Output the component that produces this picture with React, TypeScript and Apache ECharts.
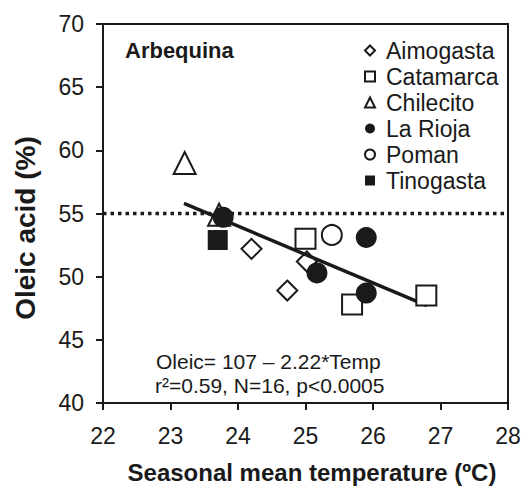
import React, { useEffect, useRef } from "react";
import * as echarts from "echarts";

const xTicks = [22, 23, 24, 25, 26, 27, 28];
const yTicks = [40, 45, 50, 55, 60, 65, 70];

const aimogasta = [[24.2, 52.2], [25.02, 51.2], [24.73, 48.9]];
const catamarca = [[25.0, 53.0], [25.69, 47.8], [26.79, 48.5]];
const chilecito = [[23.21, 59.0], [23.72, 54.9]];
const laRioja = [[23.78, 54.7], [25.17, 50.3], [25.9, 53.1], [25.9, 48.7]];
const poman = [[25.39, 53.3]];
const tinogasta = [[23.7, 52.9]];
const regression = [[23.2, 55.8], [26.8, 47.7]];
const reference55 = [[22, 55], [28, 55]];

const FONT = "'Liberation Sans', Arial, sans-serif";
const INK = "#1a1a1a";

export default function App() {
  const ref = useRef<HTMLDivElement>(null);
  useEffect(() => {
    if (!ref.current) return;
    const chart = echarts.init(ref.current, null, { renderer: "svg" });
    const open = (sym: string, size: number, data: number[][], name: string, z = 5) => ({
      name,
      type: "scatter",
      symbol: sym,
      symbolSize: size,
      data,
      z,
      itemStyle: { color: "#fff", borderColor: INK, borderWidth: 2, opacity: 1 },
    });
    const filled = (sym: string, size: number, data: number[][], name: string) => ({
      name,
      type: "scatter",
      symbol: sym,
      symbolSize: size,
      data,
      z: 5,
      itemStyle: { color: INK, borderColor: INK, borderWidth: 0, opacity: 1 },
    });
    chart.setOption({
      animation: false,
      textStyle: { fontFamily: FONT },
      grid: {
        left: 103,
        right: 17,
        top: 24,
        bottom: 87,
        show: true,
        borderColor: INK,
        borderWidth: 2,
        backgroundColor: "transparent",
      },
      legend: {
        orient: "vertical",
        left: 359,
        top: 34,
        itemWidth: 10,
        itemHeight: 10,
        itemGap: 3,
        selectedMode: false,
        textStyle: { fontFamily: FONT, fontSize: 23, color: INK, lineHeight: 23, padding: [0, 0, 0, 6] },
        data: ["Aimogasta", "Catamarca", "Chilecito", "La Rioja", "Poman", "Tinogasta"],
      },
      xAxis: {
        type: "value",
        min: xTicks[0],
        max: xTicks[xTicks.length - 1],
        interval: 1,
        axisLine: { show: true, lineStyle: { color: INK, width: 2 } },
        axisTick: { show: true, inside: false, length: 7, lineStyle: { color: INK, width: 2 } },
        axisLabel: { fontSize: 23, color: INK, margin: 21, fontFamily: FONT },
        splitLine: { show: false },
      },
      yAxis: {
        type: "value",
        min: yTicks[0],
        max: yTicks[yTicks.length - 1],
        interval: 5,
        axisLine: { show: true, lineStyle: { color: INK, width: 2 } },
        axisTick: { show: true, inside: false, length: 7, lineStyle: { color: INK, width: 2 } },
        axisLabel: { fontSize: 23, color: INK, margin: 19, fontFamily: FONT },
        splitLine: { show: false },
      },
      series: [
        {
          name: "ref55",
          type: "line",
          data: reference55,
          symbol: "none",
          z: 2,
          lineStyle: { color: INK, width: 3.5, type: [3.5, 4] },
        },
        open("diamond", 20, aimogasta, "Aimogasta", 2),
        {
          name: "fit",
          type: "line",
          data: regression,
          symbol: "none",
          z: 3,
          lineStyle: { color: INK, width: 3.5 },
        },
        open("rect", 20, catamarca, "Catamarca"),
        open("triangle", 22, chilecito, "Chilecito"),
        filled("circle", 21, laRioja, "La Rioja"),
        open("circle", 20, poman, "Poman"),
        filled("rect", 20, tinogasta, "Tinogasta"),
      ],
      graphic: [
        {
          type: "text",
          x: 125,
          y: 50,
          style: { text: "Arbequina", font: `bold 22px ${FONT}`, fill: INK, verticalAlign: "middle" },
        },
        {
          type: "text",
          x: 156,
          y: 361,
          style: { text: "Oleic= 107 – 2.22*Temp", font: `21px ${FONT}`, fill: INK, verticalAlign: "middle" },
        },
        {
          type: "text",
          x: 155,
          y: 385,
          style: { text: "r²=0.59, N=16, p<0.0005", font: `21px ${FONT}`, fill: INK, verticalAlign: "middle" },
        },
        {
          type: "text",
          x: 312,
          y: 472,
          style: {
            text: "Seasonal mean temperature (ºC)",
            font: `bold 24px ${FONT}`,
            fill: INK,
            align: "center",
            verticalAlign: "middle",
          },
        },
        {
          type: "text",
          x: 25,
          y: 228,
          rotation: Math.PI / 2,
          style: {
            text: "Oleic acid (%)",
            font: `bold 28px ${FONT}`,
            fill: INK,
            align: "center",
            verticalAlign: "middle",
          },
        },
      ],
    });
    return () => chart.dispose();
  }, []);
  return <div ref={ref} style={{ width: 525, height: 490, position: "absolute", left: 0, top: 0 }} />;
}
